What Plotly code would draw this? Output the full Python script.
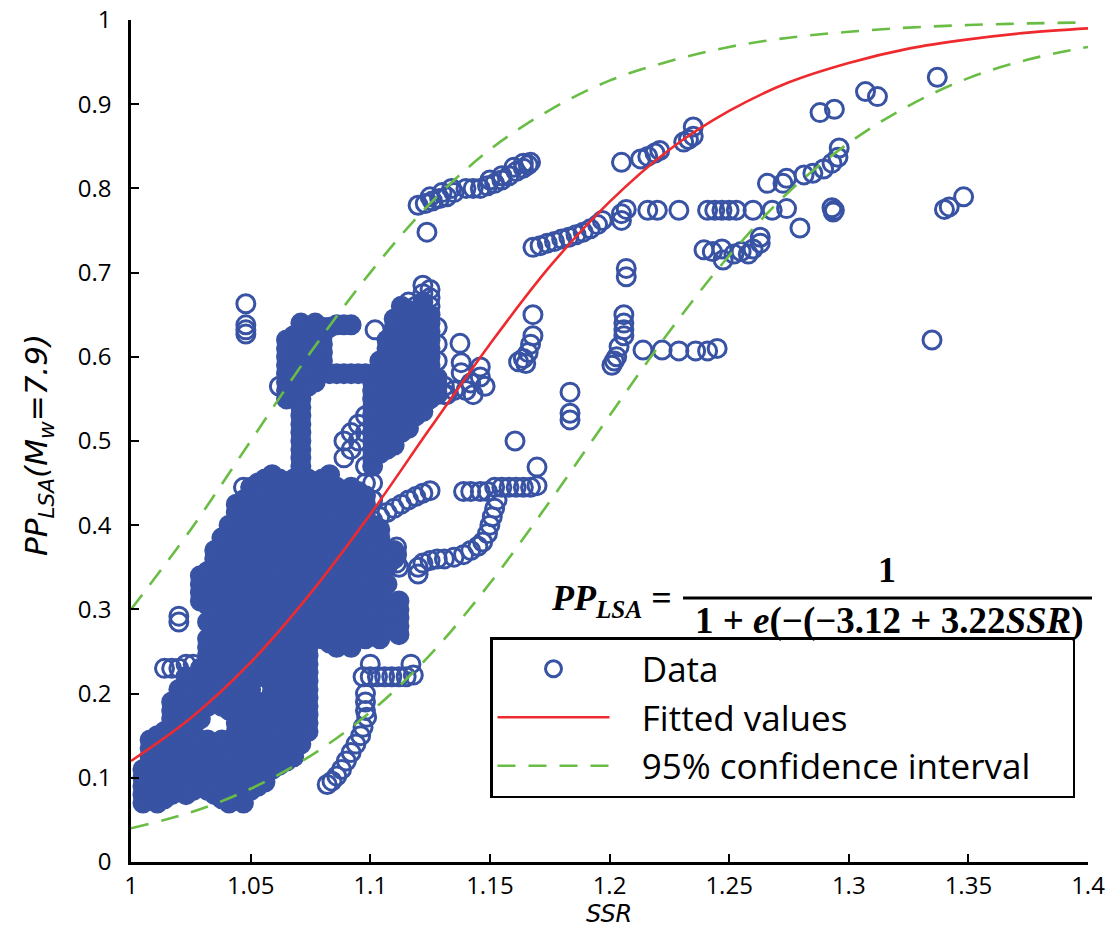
import plotly.graph_objects as go

# ---------------- data ----------------
# Dense scatter columns: (SSR value, [PP values at that SSR])
cols_lower_left = [
    (1.005, [0.07, 0.08, 0.09, 0.10, 0.11]),
    (1.008, [0.075, 0.085, 0.095, 0.105, 0.115, 0.125, 0.135, 0.145]),
    (1.011, [0.07, 0.08, 0.09, 0.10, 0.11, 0.12, 0.13, 0.14, 0.15]),
    (1.014, [0.075, 0.085, 0.095, 0.105, 0.115, 0.125, 0.135, 0.145, 0.155]),
    (1.017, [0.08, 0.09, 0.10, 0.11, 0.12, 0.13, 0.14, 0.15, 0.16, 0.17, 0.18, 0.19]),
    (1.020, [0.085, 0.095, 0.105, 0.115, 0.135, 0.145, 0.155, 0.165, 0.175, 0.185, 0.195, 0.205]),
    (1.023, [0.08, 0.09, 0.10, 0.11, 0.12, 0.13, 0.15, 0.16, 0.17, 0.18, 0.19, 0.20, 0.21, 0.22]),
    (1.026, [0.085, 0.095, 0.105, 0.125, 0.135, 0.155, 0.165, 0.175, 0.185, 0.195, 0.205, 0.215]),
    (1.029, [0.09, 0.10, 0.11, 0.12, 0.13, 0.14, 0.17, 0.18, 0.19, 0.20, 0.21, 0.22, 0.23,
             0.31, 0.32, 0.33, 0.34]),
    (1.032, [0.085, 0.095, 0.105, 0.115, 0.125, 0.135, 0.145, 0.185, 0.195, 0.205, 0.215, 0.225,
             0.235, 0.245, 0.255, 0.265, 0.285, 0.305, 0.315, 0.325, 0.335, 0.345]),
]

cols_main = [
    (1.035, [0.08, 0.09, 0.10, 0.11, 0.12, 0.13, 0.14, 0.19, 0.20, 0.21, 0.22, 0.23, 0.24, 0.25, 0.26,
             0.27, 0.28, 0.29, 0.30, 0.31, 0.32, 0.33, 0.34, 0.35, 0.36, 0.37]),
    (1.038, [0.075, 0.085, 0.095, 0.105, 0.115, 0.125, 0.135, 0.145, 0.185, 0.195, 0.205, 0.215,
             0.225, 0.235, 0.245, 0.255, 0.265, 0.275, 0.285, 0.295, 0.305, 0.315, 0.325, 0.335,
             0.345, 0.355, 0.365, 0.375, 0.385]),
    (1.041, [0.07, 0.08, 0.09, 0.10, 0.11, 0.12, 0.13, 0.14, 0.18, 0.19, 0.20, 0.21, 0.22, 0.23, 0.24,
             0.25, 0.26, 0.27, 0.28, 0.29, 0.30, 0.31, 0.32, 0.33, 0.34, 0.35, 0.36, 0.37, 0.38, 0.39, 0.40]),
    (1.044, [0.075, 0.085, 0.095, 0.105, 0.115, 0.125, 0.135, 0.145, 0.155, 0.165, 0.175, 0.185,
             0.195, 0.205, 0.215, 0.225, 0.235, 0.245, 0.255, 0.265, 0.275, 0.285, 0.295, 0.305,
             0.315, 0.325, 0.335, 0.345, 0.355, 0.365, 0.375, 0.385, 0.395, 0.405, 0.415, 0.425]),
    (1.047, [0.07, 0.08, 0.09, 0.10, 0.11, 0.12, 0.13, 0.14, 0.15, 0.16, 0.17, 0.18, 0.19, 0.20, 0.21,
             0.22, 0.23, 0.24, 0.25, 0.26, 0.27, 0.28, 0.29, 0.30, 0.31, 0.32, 0.33, 0.34, 0.35, 0.36,
             0.37, 0.38, 0.39, 0.40, 0.41, 0.42, 0.43]),
    (1.050, [0.085, 0.095, 0.105, 0.115, 0.125, 0.135, 0.145, 0.155, 0.165, 0.175, 0.185, 0.195,
             0.205, 0.215, 0.225, 0.235, 0.245, 0.255, 0.265, 0.275, 0.285, 0.295, 0.305, 0.315,
             0.325, 0.335, 0.345, 0.355, 0.365, 0.375, 0.385, 0.395, 0.405, 0.415, 0.425, 0.435, 0.445]),
    (1.053, [0.09, 0.10, 0.11, 0.12, 0.13, 0.14, 0.15, 0.16, 0.17, 0.18, 0.19, 0.22, 0.23, 0.24, 0.25,
             0.26, 0.27, 0.28, 0.29, 0.30, 0.31, 0.32, 0.33, 0.34, 0.35, 0.36, 0.37, 0.38, 0.39, 0.40,
             0.41, 0.42, 0.43, 0.44, 0.45]),
    (1.056, [0.095, 0.105, 0.115, 0.125, 0.135, 0.145, 0.155, 0.165, 0.175, 0.185, 0.225, 0.235,
             0.245, 0.255, 0.265, 0.275, 0.285, 0.295, 0.305, 0.315, 0.325, 0.335, 0.345, 0.355,
             0.365, 0.375, 0.385, 0.395, 0.405, 0.415, 0.425, 0.435, 0.445, 0.455]),
    (1.059, [0.11, 0.12, 0.13, 0.14, 0.15, 0.16, 0.17, 0.18, 0.19, 0.20, 0.21, 0.22, 0.23, 0.24, 0.25,
             0.26, 0.27, 0.28, 0.29, 0.30, 0.31, 0.32, 0.33, 0.34, 0.35, 0.36, 0.37, 0.38, 0.39, 0.40,
             0.41, 0.42, 0.43, 0.44, 0.45, 0.46]),
    (1.062, [0.115, 0.125, 0.135, 0.145, 0.155, 0.165, 0.175, 0.185, 0.195, 0.205, 0.215, 0.225,
             0.235, 0.245, 0.255, 0.265, 0.275, 0.285, 0.295, 0.305, 0.315, 0.325, 0.335, 0.345,
             0.355, 0.365, 0.375, 0.385, 0.395, 0.405, 0.415, 0.425, 0.435, 0.445, 0.455]),
    (1.065, [0.12, 0.13, 0.14, 0.15, 0.16, 0.17, 0.18, 0.19, 0.20, 0.21, 0.22, 0.23, 0.24, 0.25, 0.26,
             0.27, 0.28, 0.29, 0.30, 0.31, 0.32, 0.33, 0.34, 0.35, 0.36, 0.37, 0.38, 0.39, 0.40, 0.41,
             0.42, 0.43, 0.44, 0.45, 0.55, 0.56, 0.57, 0.58, 0.59, 0.60, 0.61, 0.62]),
    (1.068, [0.125, 0.135, 0.145, 0.155, 0.165, 0.175, 0.185, 0.195, 0.205, 0.215, 0.225, 0.235,
             0.245, 0.255, 0.265, 0.275, 0.285, 0.295, 0.305, 0.315, 0.325, 0.335, 0.345, 0.355,
             0.365, 0.375, 0.385, 0.395, 0.405, 0.415, 0.425, 0.435, 0.445, 0.455, 0.555, 0.565,
             0.575, 0.585, 0.595, 0.605, 0.615, 0.625]),
    (1.071, [0.14, 0.15, 0.16, 0.17, 0.18, 0.19, 0.20, 0.21, 0.22, 0.23, 0.24, 0.25, 0.26, 0.27, 0.28,
             0.29, 0.30, 0.31, 0.32, 0.33, 0.34, 0.35, 0.36, 0.37, 0.38, 0.39, 0.40, 0.41, 0.42, 0.43,
             0.44, 0.45, 0.46, 0.47, 0.48, 0.49, 0.50, 0.51, 0.52, 0.53, 0.54, 0.55, 0.56, 0.57, 0.58,
             0.59, 0.60, 0.61, 0.62, 0.63, 0.64]),
    (1.074, [0.155, 0.165, 0.175, 0.185, 0.195, 0.205, 0.215, 0.225, 0.235, 0.245, 0.255, 0.265,
             0.275, 0.285, 0.295, 0.305, 0.315, 0.325, 0.335, 0.345, 0.355, 0.365, 0.375, 0.385,
             0.395, 0.405, 0.415, 0.425, 0.435, 0.445, 0.455, 0.565, 0.575, 0.585, 0.595, 0.605,
             0.615, 0.625, 0.635]),
    (1.077, [0.27, 0.28, 0.29, 0.30, 0.31, 0.32, 0.33, 0.34, 0.35, 0.36, 0.37, 0.38, 0.39, 0.40, 0.41,
             0.42, 0.43, 0.44, 0.45, 0.57, 0.58, 0.59, 0.60, 0.61, 0.62, 0.63, 0.64]),
]

cols_right = [
    (1.080, [0.265, 0.275, 0.285, 0.295, 0.305, 0.315, 0.325, 0.335, 0.345, 0.355, 0.365, 0.375,
             0.385, 0.395, 0.405, 0.415, 0.425, 0.435, 0.445, 0.455, 0.585, 0.595, 0.605, 0.615,
             0.625, 0.635]),
    (1.083, [0.26, 0.27, 0.28, 0.29, 0.30, 0.31, 0.32, 0.33, 0.34, 0.35, 0.36, 0.37, 0.38, 0.39, 0.40,
             0.41, 0.42, 0.43, 0.44, 0.45, 0.46, 0.58, 0.635]),
    (1.086, [0.255, 0.265, 0.275, 0.285, 0.295, 0.305, 0.315, 0.325, 0.335, 0.345, 0.355, 0.365,
             0.375, 0.385, 0.395, 0.405, 0.415, 0.425, 0.435, 0.445, 0.58, 0.638]),
    (1.089, [0.26, 0.27, 0.28, 0.29, 0.30, 0.31, 0.32, 0.33, 0.34, 0.35, 0.36, 0.37, 0.39, 0.40, 0.41,
             0.42, 0.43, 0.44, 0.58, 0.638]),
    (1.092, [0.255, 0.265, 0.275, 0.285, 0.295, 0.305, 0.315, 0.325, 0.335, 0.345, 0.355, 0.365,
             0.375, 0.385, 0.395, 0.405, 0.415, 0.425, 0.435, 0.445, 0.58, 0.638]),
    (1.095, [0.27, 0.28, 0.29, 0.30, 0.31, 0.32, 0.33, 0.34, 0.35, 0.36, 0.37, 0.38, 0.39, 0.40, 0.41,
             0.42, 0.43, 0.44, 0.58]),
    (1.098, [0.265, 0.275, 0.285, 0.295, 0.305, 0.315, 0.325, 0.335, 0.345, 0.355, 0.365, 0.375,
             0.385, 0.395, 0.405, 0.415, 0.425, 0.435, 0.58]),
    (1.101, [0.27, 0.28, 0.29, 0.30, 0.31, 0.32, 0.33, 0.34, 0.35, 0.36, 0.37, 0.38, 0.39, 0.40,
             0.47, 0.48, 0.49, 0.50, 0.51, 0.52, 0.53, 0.54, 0.55, 0.56, 0.57, 0.578]),
    (1.104, [0.265, 0.275, 0.285, 0.295, 0.305, 0.315, 0.325, 0.335, 0.345, 0.355, 0.365, 0.375,
             0.385, 0.395, 0.485, 0.495, 0.505, 0.515, 0.525, 0.535, 0.545, 0.555, 0.565, 0.575,
             0.585, 0.595]),
    (1.107, [0.29, 0.31, 0.33, 0.35, 0.37, 0.49, 0.50, 0.51, 0.52, 0.53, 0.54, 0.55, 0.56, 0.57, 0.58,
             0.59, 0.60, 0.61, 0.62]),
    (1.110, [0.36, 0.37, 0.495, 0.505, 0.515, 0.525, 0.535, 0.545, 0.555, 0.565, 0.575, 0.585, 0.595,
             0.605, 0.615, 0.625, 0.635, 0.645]),
    (1.112, [0.27, 0.28, 0.29, 0.30, 0.31]),
    (1.113, [0.51, 0.52, 0.53, 0.54, 0.55, 0.56, 0.57, 0.58, 0.59, 0.60, 0.61, 0.62, 0.63, 0.64, 0.65,
             0.66]),
    (1.116, [0.515, 0.525, 0.535, 0.545, 0.555, 0.565, 0.575, 0.585, 0.595, 0.605, 0.615, 0.625,
             0.635, 0.645, 0.655]),
    (1.119, [0.53, 0.54, 0.55, 0.56, 0.57, 0.58, 0.59, 0.60, 0.61, 0.62, 0.63, 0.64, 0.65]),
    (1.122, [0.535, 0.545, 0.555, 0.565, 0.575, 0.585, 0.595, 0.605, 0.615, 0.625, 0.635, 0.645,
             0.655, 0.665]),
    (1.125, [0.55, 0.56, 0.57, 0.58, 0.59, 0.60, 0.61, 0.62, 0.63, 0.64, 0.65]),
    (1.128, [0.555, 0.565, 0.575]),
]

# Individually read points (SSR, PP): rings that stay visible as rings
pts_misc = [
    (1.014, 0.23), (1.017, 0.23), (1.020, 0.23), (1.023, 0.235), (1.026, 0.235),
    (1.020, 0.285), (1.020, 0.292),
    (1.047, 0.445), (1.062, 0.565),
    (1.089, 0.48), (1.089, 0.50), (1.092, 0.49), (1.092, 0.51), (1.095, 0.50), (1.095, 0.52),
    (1.098, 0.45), (1.098, 0.47), (1.098, 0.51), (1.098, 0.53), (1.101, 0.43), (1.101, 0.45),
    (1.112, 0.35), (1.116, 0.665), (1.119, 0.66), (1.122, 0.675), (1.122, 0.685),
    (1.125, 0.66), (1.125, 0.67), (1.125, 0.68), (1.128, 0.595), (1.128, 0.615), (1.128, 0.635),
    (1.131, 0.555), (1.131, 0.565),
    (1.048, 0.663), (1.048, 0.638), (1.048, 0.632), (1.048, 0.627),
    (1.102, 0.632),
    (1.101, 0.406), (1.104, 0.41), (1.107, 0.415), (1.110, 0.42), (1.113, 0.425),
    (1.116, 0.43), (1.119, 0.434), (1.122, 0.438), (1.125, 0.441),
    (1.111, 0.374), (1.111, 0.365), (1.111, 0.355),
    (1.097, 0.22), (1.100, 0.22), (1.103, 0.22), (1.106, 0.22), (1.109, 0.22), (1.112, 0.22),
    (1.115, 0.22), (1.118, 0.222), (1.100, 0.235), (1.117, 0.235),
    (1.098, 0.20), (1.098, 0.19), (1.098, 0.18), (1.0985, 0.172),
    (1.082, 0.092), (1.084, 0.096), (1.086, 0.102), (1.088, 0.11), (1.090, 0.12), (1.092, 0.13),
    (1.094, 0.14), (1.096, 0.15), (1.097, 0.16),
    (1.153, 0.43), (1.152, 0.42), (1.151, 0.41), (1.150, 0.40), (1.149, 0.39), (1.147, 0.38),
    (1.145, 0.375), (1.142, 0.37), (1.139, 0.365), (1.135, 0.362), (1.131, 0.36), (1.128, 0.36),
    (1.125, 0.358), (1.122, 0.355), (1.120, 0.35), (1.120, 0.342),
    (1.139, 0.44), (1.142, 0.44), (1.146, 0.44), (1.149, 0.44), (1.152, 0.445), (1.155, 0.445),
    (1.158, 0.445), (1.161, 0.445), (1.164, 0.445), (1.167, 0.445),
    (1.1697, 0.469), (1.1697, 0.447), (1.1605, 0.50),
    (1.1375, 0.616), (1.138, 0.593), (1.138, 0.581), (1.146, 0.588), (1.146, 0.576),
    (1.142, 0.569), (1.140, 0.56), (1.143, 0.555), (1.148, 0.565), (1.132, 0.555), (1.135, 0.56),
    (1.168, 0.65), (1.168, 0.625), (1.167, 0.615), (1.166, 0.605), (1.164, 0.598), (1.162, 0.594),
    (1.165, 0.592),
    (1.1835, 0.558), (1.1835, 0.533), (1.1835, 0.525),
    (1.1237, 0.748),
    (1.120, 0.78), (1.123, 0.782), (1.126, 0.785), (1.129, 0.788), (1.132, 0.79), (1.135, 0.795),
    (1.140, 0.80), (1.143, 0.80), (1.146, 0.80), (1.149, 0.803), (1.152, 0.806), (1.155, 0.81),
    (1.158, 0.815), (1.161, 0.82), (1.164, 0.824), (1.166, 0.828), (1.167, 0.831),
    (1.125, 0.79), (1.130, 0.795), (1.134, 0.80), (1.150, 0.81), (1.155, 0.815), (1.160, 0.825),
    (1.164, 0.83),
    (1.168, 0.73), (1.171, 0.732), (1.174, 0.735), (1.177, 0.737), (1.180, 0.74), (1.183, 0.742),
    (1.186, 0.745), (1.189, 0.748), (1.192, 0.752), (1.195, 0.757), (1.197, 0.762),
    (1.205, 0.77), (1.205, 0.762), (1.207, 0.775), (1.207, 0.705), (1.207, 0.695),
    (1.206, 0.65), (1.206, 0.64), (1.206, 0.632), (1.206, 0.625), (1.204, 0.612),
    (1.203, 0.60), (1.202, 0.595), (1.201, 0.59),
    (1.214, 0.608), (1.222, 0.608), (1.229, 0.607), (1.236, 0.607), (1.241, 0.607), (1.245, 0.61),
    (1.216, 0.774), (1.220, 0.774), (1.229, 0.774), (1.241, 0.774), (1.244, 0.774), (1.247, 0.774),
    (1.250, 0.774), (1.253, 0.774), (1.260, 0.774), (1.268, 0.774), (1.274, 0.776),
    (1.2796, 0.753), (1.293, 0.777), (1.294, 0.774), (1.2935, 0.772),
    (1.205, 0.831), (1.213, 0.835), (1.216, 0.838), (1.219, 0.842), (1.221, 0.845),
    (1.231, 0.855), (1.233, 0.858), (1.235, 0.862), (1.235, 0.873),
    (1.2395, 0.727), (1.243, 0.725), (1.247, 0.728), (1.2475, 0.715), (1.252, 0.722), (1.255, 0.725),
    (1.258, 0.722), (1.260, 0.728), (1.263, 0.735), (1.263, 0.742),
    (1.266, 0.806), (1.2725, 0.806), (1.274, 0.812), (1.2813, 0.816), (1.285, 0.818),
    (1.2895, 0.823), (1.293, 0.83), (1.2955, 0.837), (1.296, 0.848),
    (1.288, 0.89), (1.294, 0.894), (1.307, 0.915), (1.312, 0.909), (1.337, 0.932),
    (1.340, 0.775), (1.342, 0.778), (1.348, 0.79), (1.3348, 0.62),
]

# Fitted values and 95% confidence interval
curve_ssr = [1.0, 1.025, 1.05, 1.075, 1.1, 1.125, 1.15, 1.175, 1.2, 1.225, 1.25, 1.275, 1.3,
             1.325, 1.35, 1.375, 1.4]
fitted_pp = [0.12, 0.171, 0.237, 0.319, 0.413, 0.515, 0.615, 0.707, 0.784, 0.846, 0.892, 0.926,
             0.949, 0.966, 0.977, 0.985, 0.990]
ci_upper_pp = [0.30, 0.395, 0.50, 0.605, 0.70, 0.782, 0.846, 0.893, 0.928, 0.951, 0.968, 0.979,
               0.986, 0.991, 0.994, 0.996, 0.997]
ci_lower_pp = [0.040, 0.059, 0.087, 0.126, 0.178, 0.246, 0.331, 0.428, 0.530, 0.630, 0.720, 0.796,
               0.854, 0.898, 0.931, 0.953, 0.968]

x_ticks = [1.0, 1.05, 1.1, 1.15, 1.2, 1.25, 1.3, 1.35, 1.4]
x_tick_text = ["1", "1.05", "1.1", "1.15", "1.2", "1.25", "1.3", "1.35", "1.4"]
y_ticks = [0, 0.1, 0.2, 0.3, 0.4, 0.5, 0.6, 0.7, 0.8, 0.9, 1.0]
y_tick_text = ["0", "0.1", "0.2", "0.3", "0.4", "0.5", "0.6", "0.7", "0.8", "0.9", "1"]

# ---------------- build ----------------
dx, dy = [], []
for group in (cols_lower_left, cols_main, cols_right):
    for xv, ys in group:
        for yv in ys:
            dx.append(xv)
            dy.append(yv)
sx, sy = list(dx), list(dy)
for xv, yv in pts_misc:
    sx.append(xv)
    sy.append(yv)

BLUE = "#3953a4"
RED = "#ee2a2e"
GREEN = "#69bd45"

# page has an 8px body margin; plot area must sit at page px 131..1088 x 20..862
W, H = 1109, 938
L, T = 123, 12
PW, PH = 957, 842
R, B = W - L - PW, H - T - PH


def px2x(px):
    return (px - 131) / PW


def py2y(py):
    return (862 - py) / PH


NB = "\u00a0"

fig = go.Figure()
# overlapping rings in the dense clusters merge into solid blue (as in the reference)
fig.add_trace(go.Scatter(
    x=dx, y=dy, mode="markers", showlegend=False, hoverinfo="skip",
    marker=dict(symbol="circle", size=17, color=BLUE, line=dict(width=0)),
))
fig.add_trace(go.Scatter(
    x=sx, y=sy, mode="markers", name=NB * 3 + "Data", legendgroup="a",
    marker=dict(symbol="circle-open", size=18, color=BLUE, line=dict(width=3, color=BLUE)),
))
fig.add_trace(go.Scatter(
    x=curve_ssr, y=fitted_pp, mode="lines", name=NB * 3 + "Fitted values", legendgroup="b",
    line=dict(color=RED, width=2.6, shape="spline"),
))
fig.add_trace(go.Scatter(
    x=curve_ssr, y=ci_upper_pp, mode="lines",
    name=NB * 3 + "95% confidence interval" + NB * 4, legendgroup="c",
    line=dict(color=GREEN, width=2.6, dash="18px,13px", shape="spline"),
))
fig.add_trace(go.Scatter(
    x=curve_ssr, y=ci_lower_pp, mode="lines", name="95% confidence interval", legendgroup="c",
    showlegend=False,
    line=dict(color=GREEN, width=2.6, dash="18px,13px", shape="spline"),
))

axis_common = dict(
    showline=True, linecolor="black", linewidth=2.5, mirror=False,
    ticks="inside", ticklen=8, tickwidth=2, tickcolor="black",
    showgrid=False, zeroline=False, ticklabeloverflow="allow",
    tickfont=dict(family="Open Sans, DejaVu Sans, sans-serif", size=24, color="black"),
)

fig.update_layout(
    width=W, height=H,
    margin=dict(l=L, r=R, t=T, b=B, autoexpand=False),
    paper_bgcolor="white", plot_bgcolor="white",
    xaxis=dict(range=[1.0, 1.4], tickvals=x_ticks, ticktext=x_tick_text, ticklabelstandoff=0,
               **axis_common),
    yaxis=dict(range=[0, 1.0], tickvals=y_ticks, ticktext=y_tick_text, ticklabelstandoff=12,
               **axis_common),
    showlegend=True,
    legend=dict(
        x=px2x(490), y=py2y(637), xanchor="left", yanchor="top",
        bordercolor="black", borderwidth=2.5, bgcolor="white",
        font=dict(family="Open Sans, DejaVu Sans, sans-serif", size=35, color="black"),
        itemwidth=112, tracegroupgap=0, traceorder="normal",
    ),
)

serif = "Liberation Serif, Times New Roman, serif"
fig.add_annotation(
    x=px2x(609), y=py2y(914), xref="paper", yref="paper", showarrow=False,
    xanchor="center", yanchor="middle",
    text="<i>SSR</i>", font=dict(family="DejaVu Sans, sans-serif", size=24, color="black"),
)
fig.add_annotation(
    x=px2x(38), y=py2y(445), xref="paper", yref="paper", showarrow=False, textangle=-90,
    xanchor="center", yanchor="middle",
    text="<i>PP<sub>LSA</sub>(M<sub>w</sub>=7.9)</i>",
    font=dict(family="DejaVu Sans, sans-serif", size=31, color="black"),
)
# formula
fig.add_annotation(
    x=px2x(674), y=py2y(600), xref="paper", yref="paper", showarrow=False,
    xanchor="right", yanchor="middle",
    text="<b><i>PP</i></b><sub><b><i>LSA</i></b></sub><b> =</b>",
    font=dict(family=serif, size=36, color="black"),
)
fig.add_annotation(
    x=px2x(887), y=py2y(570), xref="paper", yref="paper", showarrow=False,
    xanchor="center", yanchor="middle",
    text="<b>1</b>", font=dict(family=serif, size=36, color="black"),
)
fig.add_shape(
    type="line", xref="paper", yref="paper",
    x0=px2x(683), x1=px2x(1092), y0=py2y(598), y1=py2y(598),
    line=dict(color="black", width=3),
)
fig.add_annotation(
    x=px2x(889), y=py2y(621), xref="paper", yref="paper", showarrow=False,
    xanchor="center", yanchor="middle",
    text="<b>1 + <i>e</i>(\u2212(\u22123.12 + 3.22<i>SSR</i>)</b>",
    font=dict(family=serif, size=37, color="black"),
)

fig.write_html("out.html")
